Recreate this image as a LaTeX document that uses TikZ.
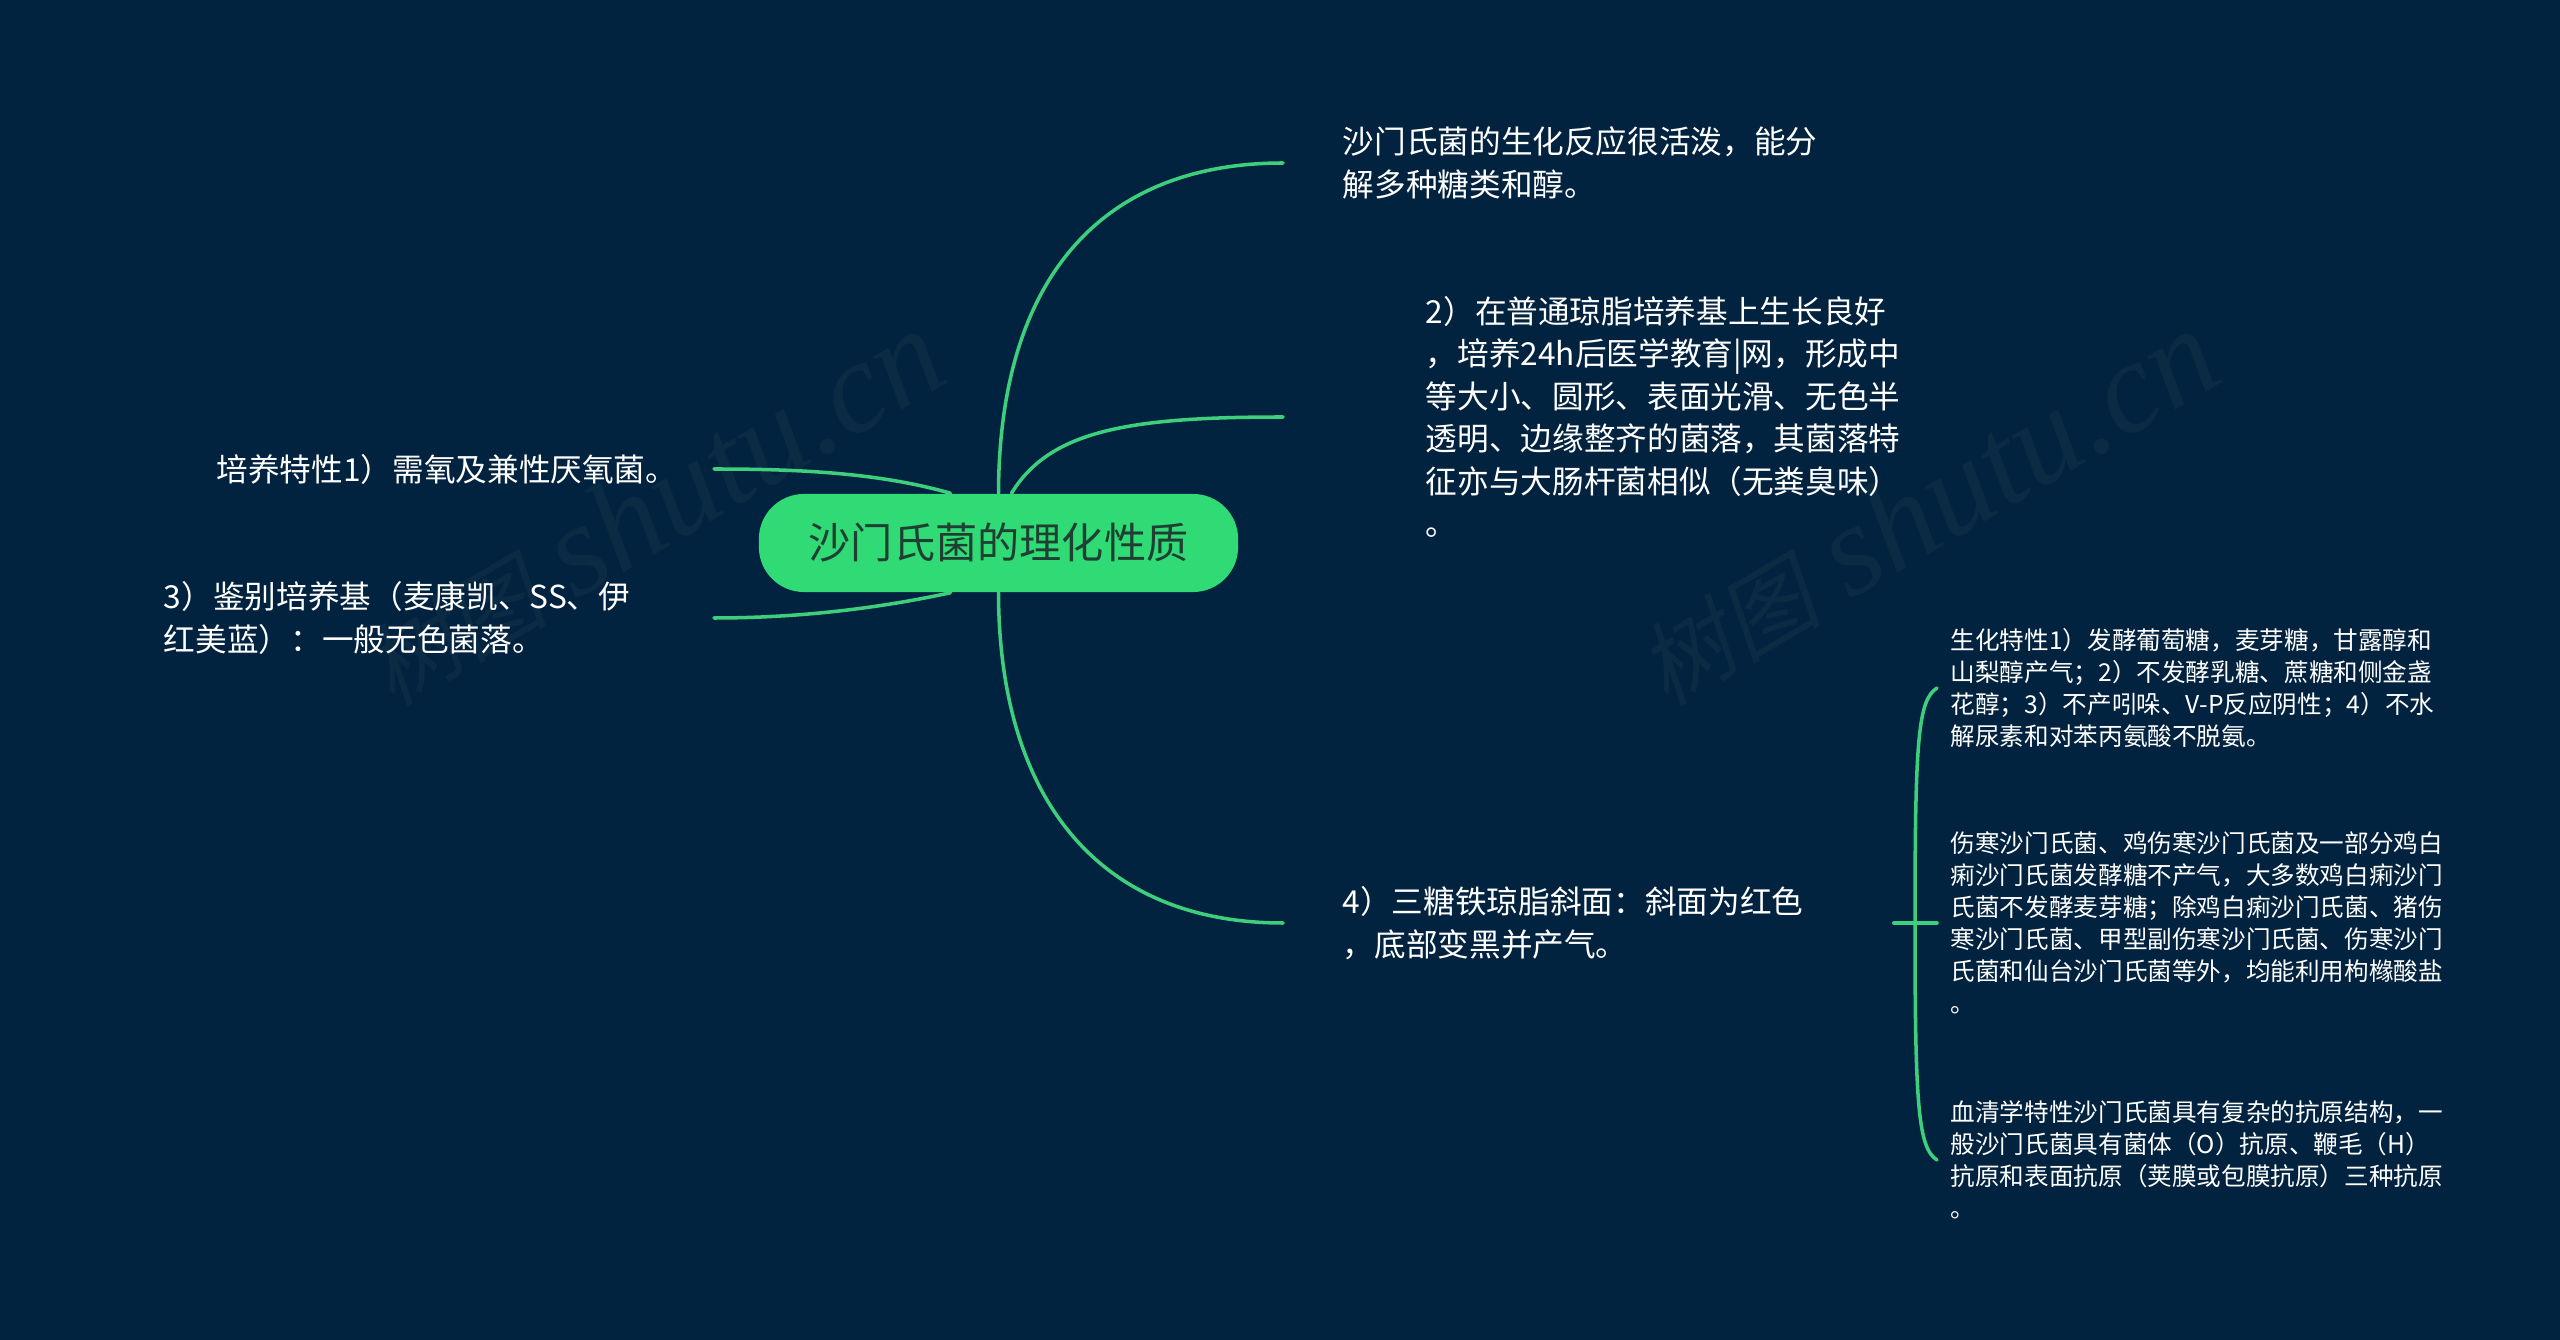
\documentclass[tikz,border=0pt]{standalone}
\usepackage{fontspec}
\setmainfont{Noto Sans CJK SC}
\newfontfamily\markfont{Liberation Serif}
\newfontfamily\markcjk[FakeSlant=.2]{Noto Sans CJK SC}
\usetikzlibrary{positioning}

\definecolor{deepbg}{HTML}{02233F}
\definecolor{linegreen}{HTML}{3DCF7C}
\definecolor{rootgreen}{HTML}{30DA75}
\definecolor{rootink}{HTML}{1F3F33}
\definecolor{markgrey}{HTML}{0B2A43}

\tikzset{
    rootnode/.style={fill=rootgreen, text=rootink, rounded corners=.45cm, minimum width=4.79cm, minimum height=.98cm, inner sep=0pt, font=\fontsize{12}{14}\selectfont},
    bigtext/.style={text=white, align=left, inner ysep=0pt, font=\fontsize{9}{12.1}\selectfont},
    smalltext/.style={text=white, align=left, inner ysep=0pt, inner xsep=.13cm, font=\fontsize{7}{9.1}\selectfont},
    branch/.style={draw=linegreen, line width=1pt, line cap=round},
    watermark/.style={text=markgrey, rotate=30.3, font=\fontsize{37}{40}\selectfont}
}

\newcommand{\markword}{{\fontsize{26}{30}\selectfont\markcjk 树图}\ {\markfont\itshape shutu.cn}}

\begin{document}
\begin{tikzpicture}[x=.01cm, y=-.01cm]
    \fill[deepbg](0, 0)rectangle(2560, 1340);
    \useasboundingbox (0, 0)rectangle(2560, 1340);
    \node[watermark] (markleft) at (652, 508){\markword};
    \node[watermark] (markright) at (1926, 508){\markword};

    \node[rootnode] (root) at (998.5, 543){沙门氏菌的理化性质};

    \node[bigtext, anchor=west, inner xsep=.59cm] (active) at (1283, 163){沙门氏菌的生化反应很活泼，能分\\解多种糖类和醇。};
    \node[bigtext, anchor=west, inner xsep=1.42cm] (agar) at (1283, 417){2）在普通琼脂培养基上生长良好\\，培养24h后医学教育|网，形成中\\等大小、圆形、表面光滑、无色半\\透明、边缘整齐的菌落，其菌落特\\征亦与大肠杆菌相似（无粪臭味）\\。};
    \node[bigtext, anchor=west, inner xsep=.59cm, text width=4.91cm] (iron) at (1283, 923){4）三糖铁琼脂斜面：斜面为红色\\，底部变黑并产气。};
    \node[bigtext, anchor=east, inner xsep=.36cm] (culture) at (714, 469){培养特性1）需氧及兼性厌氧菌。};
    \node[bigtext, anchor=east, inner xsep=.83cm] (medium) at (714, 618){3）鉴别培养基（麦康凯、SS、伊\\红美蓝）：一般无色菌落。};

    \coordinate (fork) at (1915, 923);
    \node[smalltext, anchor=west] (biochem) at (1937, 688){生化特性1）发酵葡萄糖，麦芽糖，甘露醇和\\山梨醇产气；2）不发酵乳糖、蔗糖和侧金盏\\花醇；3）不产吲哚、V-P反应阴性；4）不水\\解尿素和对苯丙氨酸不脱氨。};
    \node[smalltext, anchor=west] (ferment) at (1937, 923){伤寒沙门氏菌、鸡伤寒沙门氏菌及一部分鸡白\\痢沙门氏菌发酵糖不产气，大多数鸡白痢沙门\\氏菌不发酵麦芽糖；除鸡白痢沙门氏菌、猪伤\\寒沙门氏菌、甲型副伤寒沙门氏菌、伤寒沙门\\氏菌和仙台沙门氏菌等外，均能利用枸橼酸盐\\。};
    \node[smalltext, anchor=west] (serum) at (1937, 1160){血清学特性沙门氏菌具有复杂的抗原结构，一\\般沙门氏菌具有菌体（O）抗原、鞭毛（H）\\抗原和表面抗原（荚膜或包膜抗原）三种抗原\\。};

    % root to the branches
    \draw[branch](root.north) .. controls (999, 280) and (1100, 163) .. (active.west);
    \draw[branch]([xshift=.13cm]root.north) .. controls (1050, 430) and (1130, 417) .. (agar.west);
    \draw[branch](root.south) .. controls (999, 800) and (1100, 923) .. (iron.west);
    \draw[branch]([xshift=-.48cm]root.north) .. controls (880, 473) and (800, 469) .. (culture.east);
    \draw[branch]([xshift=-.48cm]root.south) .. controls (880, 608) and (800, 618) .. (medium.east);

    % bracket
    \draw[branch](iron.east)--(ferment.west);
    \draw[branch](fork) .. controls (1915, 740) and (1918, 700) .. (biochem.west);
    \draw[branch](fork) .. controls (1915, 1105) and (1918, 1148) .. (serum.west);
\end{tikzpicture}
\end{document}
